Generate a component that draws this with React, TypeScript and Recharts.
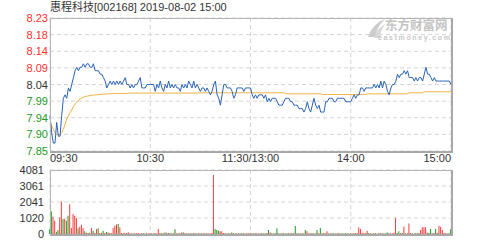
import React from "react";
import { LineChart, Line, BarChart, Bar, Cell, XAxis, YAxis, CartesianGrid } from "recharts";

// header + axes
const title = "惠程科技[002168] 2019-08-02 15:00";
const prevClose = 8.04;
const pctTicks = [-2.4, -1.8, -1.2, -0.6, 0, 0.6, 1.2, 1.8, 2.4];
const priceTickLabels = ["7.85", "7.90", "7.94", "7.99", "8.04", "8.09", "8.14", "8.18", "8.23"];
const pctTickLabels = ["2.40%", "1.80%", "1.20%", "0.60%", "0.00%", "0.60%", "1.20%", "1.80%", "2.40%"];
const timeTicks = [0, 60, 120, 180, 240];
const timeTickLabels = ["09:30", "10:30", "11:30/13:00", "14:00", "15:00"];
const volTicks = [0, 1020, 2041, 3061, 4081];

// one value per minute, 241 minutes
const price = [
  7.95, 7.90, 7.87, 7.87, 7.93, 7.89, 7.89, 7.95, 8.00, 8.01, 8.00, 8.03, 8.02, 8.04, 8.06, 8.08, 8.09, 8.08, 8.09, 8.09,
  8.10, 8.09, 8.10, 8.10, 8.09, 8.09, 8.10, 8.08, 8.08, 8.08, 8.07, 8.07, 8.06, 8.05, 8.03, 8.04, 8.05, 8.04, 8.05, 8.04,
  8.05, 8.04, 8.05, 8.04, 8.05, 8.06, 8.04, 8.04, 8.03, 8.04, 8.03, 8.04, 8.04, 8.05, 8.06, 8.03, 8.03, 8.03, 8.04, 8.04,
  8.04, 8.04, 8.04, 8.02, 8.04, 8.03, 8.05, 8.03, 8.02, 8.04, 8.03, 8.05, 8.03, 8.04, 8.03, 8.04, 8.03, 8.03, 8.02, 8.04,
  8.03, 8.04, 8.03, 8.05, 8.04, 8.03, 8.05, 8.03, 8.04, 8.03, 8.02, 8.03, 8.03, 8.02, 8.03, 8.02, 8.01, 8.02, 8.04, 8.05,
  8.01, 8.00, 7.98, 8.01, 8.04, 8.04, 8.03, 8.03, 8.03, 8.02, 8.00, 8.01, 8.03, 8.03, 8.03, 8.03, 8.02, 8.03, 8.03, 8.03,
  8.03, 8.01, 8.00, 8.01, 8.00, 8.01, 8.01, 8.01, 8.00, 8.01, 7.99, 8.00, 7.99, 8.00, 8.00, 8.00, 7.99, 7.98, 7.98, 7.98,
  7.99, 8.00, 8.00, 8.00, 7.99, 7.99, 7.98, 7.98, 7.98, 7.97, 7.97, 7.97, 7.96, 7.97, 7.99, 7.97, 7.96, 7.98, 8.00, 7.98,
  7.97, 7.98, 7.96, 7.96, 7.96, 7.99, 7.99, 8.00, 8.00, 8.00, 7.99, 7.99, 8.00, 8.00, 8.00, 8.00, 8.00, 7.99, 7.99, 7.99,
  7.99, 8.00, 8.01, 8.00, 8.01, 8.01, 8.03, 8.03, 8.02, 8.03, 8.03, 8.03, 8.03, 8.03, 8.04, 8.03, 8.04, 8.03, 8.05, 8.03,
  8.05, 8.04, 8.02, 8.01, 8.03, 8.04, 8.04, 8.05, 8.07, 8.06, 8.07, 8.07, 8.08, 8.07, 8.08, 8.06, 8.06, 8.06, 8.05, 8.06,
  8.05, 8.06, 8.06, 8.05, 8.07, 8.09, 8.07, 8.07, 8.06, 8.05, 8.06, 8.05, 8.05, 8.05, 8.05, 8.05, 8.05, 8.05, 8.05, 8.05, 8.04,
];

const avgPrice = [
  7.930, 7.920, 7.910, 7.900, 7.895, 7.895, 7.895, 7.900, 7.910, 7.925, 7.940, 7.950, 7.958, 7.966, 7.976, 7.983, 7.989, 7.994, 7.998, 8.001,
  8.003, 8.005, 8.006, 8.007, 8.008, 8.009, 8.009, 8.010, 8.010, 8.011, 8.011, 8.012, 8.012, 8.012, 8.013, 8.013, 8.013, 8.013, 8.014, 8.014,
  8.014, 8.014, 8.014, 8.014, 8.014, 8.014, 8.014, 8.015, 8.015, 8.015, 8.015, 8.015, 8.015, 8.015, 8.015, 8.015, 8.015, 8.015, 8.015, 8.015,
  8.015, 8.015, 8.015, 8.015, 8.015, 8.015, 8.015, 8.015, 8.015, 8.015, 8.015, 8.015, 8.015, 8.015, 8.015, 8.015, 8.015, 8.015, 8.015, 8.015,
  8.015, 8.015, 8.015, 8.015, 8.015, 8.015, 8.015, 8.015, 8.015, 8.016, 8.016, 8.016, 8.016, 8.016, 8.016, 8.016, 8.016, 8.016, 8.016, 8.016,
  8.016, 8.016, 8.016, 8.016, 8.016, 8.016, 8.016, 8.016, 8.016, 8.016, 8.016, 8.016, 8.016, 8.016, 8.016, 8.016, 8.016, 8.016, 8.016, 8.016,
  8.016, 8.016, 8.016, 8.016, 8.016, 8.016, 8.016, 8.016, 8.016, 8.016, 8.016, 8.016, 8.016, 8.016, 8.016, 8.016, 8.016, 8.016, 8.016, 8.016,
  8.016, 8.013, 8.013, 8.013, 8.013, 8.013, 8.013, 8.013, 8.013, 8.013, 8.013, 8.013, 8.013, 8.013, 8.013, 8.013, 8.013, 8.013, 8.013, 8.013,
  8.013, 8.013, 8.013, 8.011, 8.011, 8.011, 8.011, 8.011, 8.011, 8.011, 8.011, 8.011, 8.011, 8.011, 8.011, 8.011, 8.011, 8.011, 8.011, 8.011,
  8.011, 8.011, 8.011, 8.011, 8.011, 8.011, 8.011, 8.011, 8.011, 8.011, 8.013, 8.013, 8.013, 8.013, 8.013, 8.013, 8.013, 8.013, 8.013, 8.013,
  8.013, 8.013, 8.013, 8.013, 8.013, 8.013, 8.013, 8.013, 8.013, 8.013, 8.013, 8.013, 8.013, 8.013, 8.013, 8.016, 8.016, 8.016, 8.016, 8.016,
  8.016, 8.016, 8.016, 8.016, 8.019, 8.019, 8.019, 8.019, 8.019, 8.019, 8.019, 8.019, 8.019, 8.019, 8.019, 8.019, 8.019, 8.019, 8.019, 8.019, 8.019,
];

const volume = [
  300, 1440, 1100, 846, 150, 250, 1058, 2073, 950, 950, 850, 1160, 1900, 380, 1270, 1160, 1015, 360, 465, 590,
  360, 170, 85, 60, 80, 380, 210, 60, 317, 360, 70, 80, 210, 60, 130, 100, 60, 40, 380, 530,
  600, 635, 423, 60, 40, 80, 40, 110, 40, 30, 50, 30, 40, 60, 30, 40, 50, 30, 40, 30,
  40, 30, 50, 40, 30, 317, 60, 40, 30, 100, 80, 60, 40, 30, 50, 296, 40, 30, 50, 100,
  100, 40, 30, 50, 40, 30, 40, 60, 30, 40, 30, 50, 40, 30, 40, 30, 50, 40, 3770, 317,
  254, 210, 170, 170, 60, 40, 30, 50, 40, 100, 40, 30, 50, 40, 30, 40, 50, 30, 40, 30,
  60, 40, 30, 50, 40, 30, 40, 50, 30, 40, 60, 254, 100, 40, 30, 50, 360, 40, 30, 50,
  40, 30, 50, 40, 30, 60, 40, 508, 40, 30, 50, 40, 30, 254, 170, 40, 30, 50, 40, 30,
  254, 40, 380, 50, 40, 30, 170, 40, 30, 50, 40, 30, 40, 50, 30, 40, 30, 50, 40, 30,
  40, 30, 50, 40, 60, 423, 317, 80, 50, 40, 210, 60, 40, 30, 50, 40, 30, 40, 50, 30,
  40, 30, 100, 40, 30, 50, 80, 1015, 60, 170, 40, 60, 486, 50, 40, 677, 60, 40, 30, 50,
  40, 60, 254, 423, 423, 423, 80, 60, 317, 40, 60, 317, 80, 530, 465, 254, 60, 40, 30, 50, 296,
];

// 1 = buy side (red), 0 = sell side (green)
const volUp = [
  0, 0, 1, 1, 0, 0, 1, 1, 0, 1, 0, 0, 1, 1, 1, 1, 1, 0, 1, 1,
  1, 0, 1, 1, 0, 1, 0, 1, 1, 0, 1, 1, 0, 1, 0, 1, 1, 0, 1, 1,
  1, 0, 1, 1, 0, 1, 0, 1, 1, 0, 1, 0, 1, 1, 0, 1, 0, 1, 0, 1,
  1, 0, 1, 0, 1, 1, 1, 0, 1, 0, 1, 0, 1, 0, 1, 0, 1, 0, 1, 1,
  0, 1, 0, 1, 0, 1, 0, 1, 0, 1, 1, 0, 1, 0, 1, 0, 1, 1, 1, 0,
  0, 0, 1, 1, 1, 0, 1, 0, 1, 0, 1, 0, 1, 0, 1, 0, 1, 0, 1, 0,
  1, 0, 1, 0, 1, 0, 1, 0, 1, 0, 1, 0, 1, 0, 1, 0, 0, 1, 0, 1,
  0, 1, 0, 1, 0, 1, 0, 0, 1, 0, 1, 0, 1, 0, 1, 1, 0, 1, 0, 1,
  0, 1, 0, 1, 0, 1, 1, 0, 1, 0, 1, 0, 1, 0, 1, 0, 1, 0, 1, 0,
  1, 0, 1, 0, 1, 1, 1, 1, 0, 1, 1, 0, 1, 0, 1, 0, 1, 0, 1, 0,
  1, 0, 0, 1, 0, 1, 1, 1, 0, 0, 1, 0, 1, 1, 0, 1, 1, 0, 1, 0,
  1, 0, 1, 1, 1, 1, 1, 0, 0, 1, 0, 0, 1, 1, 1, 1, 1, 0, 1, 0, 0,
];

const rows = price.map((p, i) => ({ i, price: p, avg: avgPrice[i], vol: volume[i], up: volUp[i] }));

const FONT = '"Liberation Sans", "Noto Sans CJK SC", sans-serif';
const RED = "#ff3030";
const GREEN = "#1e961e";
const DARK = "#333333";
const GRID = "#d4d4d4";

const priceTicks = pctTicks.map((p) => prevClose * (1 + p / 100));
const priceDomain = [prevClose * (1 - 2.4 / 100), prevClose * (1 + 2.4 / 100)];

const tone = (p: number) => (p > 0 ? RED : p < 0 ? GREEN : DARK);

function PriceTick({ x, y, index }: any) {
  return (
    <text x={x} y={y} dy={4} textAnchor="end" fill={tone(pctTicks[index])} fontSize={11} fontFamily={FONT}>
      {priceTickLabels[index]}
    </text>
  );
}

function PctTick({ x, y, index }: any) {
  return (
    <text x={x} y={y} dy={4} textAnchor="start" fill={tone(pctTicks[index])} fontSize={11} fontFamily={FONT}>
      {pctTickLabels[index]}
    </text>
  );
}

function TimeTick({ x, y, index }: any) {
  const anchor = index === 0 ? "start" : index === timeTicks.length - 1 ? "end" : "middle";
  return (
    <text x={x} y={y} dy={9} textAnchor={anchor} fill={DARK} fontSize={11} fontFamily={FONT}>
      {timeTickLabels[index]}
    </text>
  );
}

function VolTick({ x, y, index }: any) {
  return (
    <text x={x} y={y} dy={4} textAnchor="end" fill={DARK} fontSize={11} fontFamily={FONT}>
      {volTicks[index]}
    </text>
  );
}

const frame = (top: number, height: number): React.CSSProperties => ({
  position: "absolute",
  left: 50,
  top,
  width: 403,
  height,
  boxSizing: "border-box",
  borderTop: "1px solid #b4b4b4",
  borderLeft: "1px solid #b4b4b4",
  borderRight: "2px solid #a8a8a8",
  borderBottom: "2px solid #a8a8a8",
  pointerEvents: "none",
});

export default function App() {
  return (
    <div style={{ position: "absolute", left: 0, top: 0, width: 502, height: 240, background: "#fff", overflow: "hidden" }}>
      <div style={{ position: "absolute", left: 50, top: 1, fontSize: 11, lineHeight: "13px", fontFamily: FONT, color: DARK, whiteSpace: "nowrap" }}>
        {title}
      </div>

      <div style={{ position: "absolute", left: 0, top: 0 }}>
        <LineChart width={502} height={175} data={rows} margin={{ top: 18, right: 0, bottom: 0, left: 0 }}>
          <CartesianGrid yAxisId="p" stroke={GRID} strokeDasharray="4 3" />
          <XAxis
            dataKey="i"
            type="number"
            domain={[0, 240]}
            ticks={timeTicks}
            height={24}
            axisLine={false}
            tickLine={false}
            tickSize={0}
            tickMargin={2}
            tick={<TimeTick />}
            interval={0}
          />
          <YAxis
            yAxisId="p"
            orientation="left"
            width={50}
            domain={priceDomain}
            ticks={priceTicks}
            axisLine={false}
            tickLine={false}
            tickSize={0}
            tickMargin={2}
            tick={<PriceTick />}
            interval={0}
          />
          <YAxis
            yAxisId="pct"
            orientation="right"
            width={51}
            domain={[-2.4, 2.4]}
            ticks={pctTicks}
            axisLine={false}
            tickLine={false}
            tickSize={0}
            tickMargin={4}
            tick={<PctTick />}
            interval={0}
          />
          <Line yAxisId="p" dataKey="avg" stroke="#eeb03a" strokeWidth={1} dot={false} isAnimationActive={false} />
          <Line yAxisId="p" dataKey="price" stroke="#2a62b8" strokeWidth={1} dot={false} isAnimationActive={false} />
        </LineChart>
      </div>

      <div style={{ position: "absolute", left: 0, top: 160 }}>
        <BarChart width={502} height={80} data={rows} margin={{ top: 10, right: 51, bottom: 6, left: 0 }}>
          <CartesianGrid stroke={GRID} strokeDasharray="4 3" />
          <XAxis dataKey="i" type="number" domain={[0, 240]} ticks={timeTicks} hide />
          <YAxis
            width={50}
            domain={[0, 4081]}
            ticks={volTicks}
            axisLine={false}
            tickLine={false}
            tickSize={0}
            tickMargin={6}
            tick={<VolTick />}
            interval={0}
          />
          <Bar dataKey="vol" barSize={1} isAnimationActive={false}>
            {rows.map((r) => (
              <Cell key={r.i} fill={r.up ? "#ff3a3a" : "#1e961e"} />
            ))}
          </Bar>
        </BarChart>
      </div>

      <div style={frame(18, 135)} />
      <div style={frame(170, 66)} />

      <svg width={90} height={26} style={{ position: "absolute", left: 365, top: 18 }}>
        <path d="M3 19 C6 10 12 4 20 1 C15 6 12 11 10 19 Z" fill="#cdcdcd" />
        <path d="M9 20 C11 13 15 9 20 6 C17 11 15 15 15 20 Z" fill="#d8d8d8" />
        <text x={20} y={12} fontSize={12.5} fontWeight="bold" fill="#c4c4c4" fontFamily={FONT}>东方财富网</text>
        <text x={13} y={22} fontSize={7} fontWeight="bold" fill="#c8c8c8" fontFamily={FONT} textLength={72}>eastmoney.com</text>
      </svg>
    </div>
  );
}
